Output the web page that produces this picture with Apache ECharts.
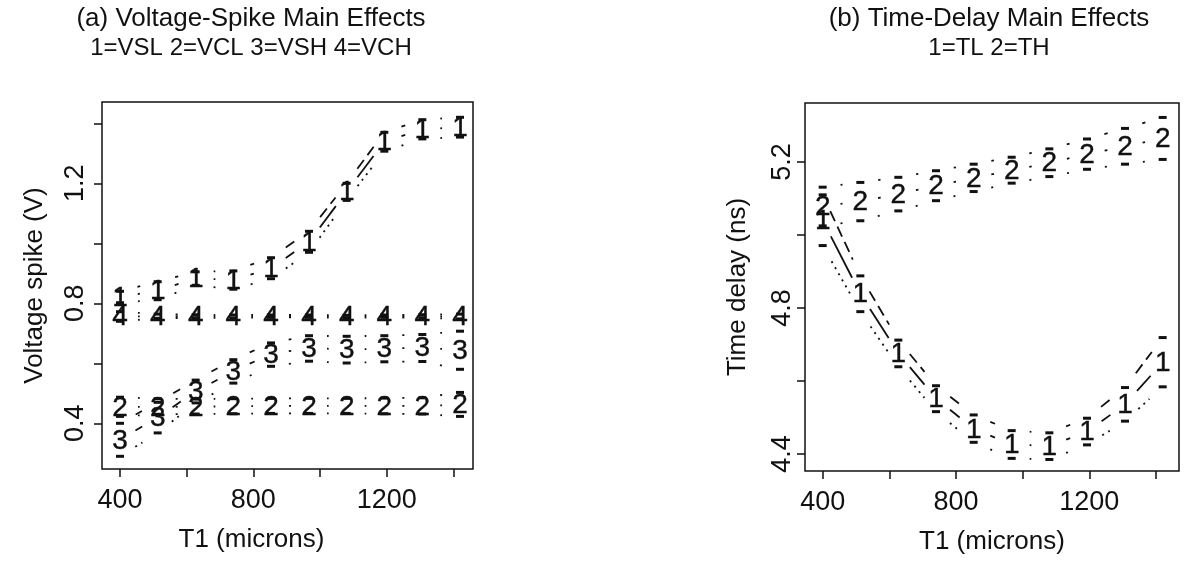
<!DOCTYPE html>
<html>
<head>
<meta charset="utf-8">
<script src="https://cdn.jsdelivr.net/npm/echarts@6/dist/echarts.min.js"></script>
<style>
  html, body { margin: 0; padding: 0; background: #fff; }
  #chart { width: 1187px; height: 571px; }
</style>
</head>
<body>
<div id="chart"></div>
<script>
// T1 (microns) design points, shared by both panels
var t1 = [400, 513, 627, 740, 853, 967, 1080, 1193, 1307, 1420];

// (a) voltage spike: centre, upper and lower bounds per level
var vslMid = [0.821, 0.842, 0.883, 0.878, 0.917, 1.005, 1.172, 1.339, 1.380, 1.387];
var vslUp  = [0.840, 0.872, 0.905, 0.908, 0.952, 1.040, 1.200, 1.370, 1.412, 1.420];
var vslLo  = [0.802, 0.812, 0.860, 0.847, 0.882, 0.970, 1.143, 1.307, 1.348, 1.354];

var vclMid = [0.455, 0.455, 0.455, 0.457, 0.458, 0.458, 0.458, 0.458, 0.458, 0.462];
var vclUp  = [0.487, 0.482, 0.481, 0.482, 0.483, 0.483, 0.483, 0.484, 0.485, 0.503];
var vclLo  = [0.423, 0.430, 0.431, 0.432, 0.433, 0.433, 0.433, 0.432, 0.431, 0.423];

var vshMid = [0.345, 0.420, 0.506, 0.574, 0.631, 0.651, 0.646, 0.649, 0.652, 0.644];
var vshUp  = [0.400, 0.470, 0.544, 0.612, 0.668, 0.692, 0.690, 0.692, 0.696, 0.707];
var vshLo  = [0.290, 0.368, 0.468, 0.534, 0.590, 0.607, 0.601, 0.605, 0.606, 0.580];

var vchMid = [0.756, 0.757, 0.757, 0.756, 0.757, 0.757, 0.756, 0.757, 0.757, 0.756];
var vchUp  = [0.772, 0.764, 0.762, 0.761, 0.761, 0.761, 0.760, 0.761, 0.762, 0.764];
var vchLo  = [0.740, 0.750, 0.752, 0.751, 0.753, 0.753, 0.752, 0.753, 0.752, 0.748];

// (b) time delay
var tlMid = [5.040, 4.839, 4.676, 4.552, 4.469, 4.426, 4.422, 4.461, 4.536, 4.651];
var tlUp  = [5.110, 4.888, 4.712, 4.587, 4.507, 4.464, 4.458, 4.498, 4.582, 4.719];
var tlLo  = [4.971, 4.790, 4.639, 4.516, 4.432, 4.388, 4.385, 4.425, 4.490, 4.584];

var thMid = [5.079, 5.092, 5.112, 5.135, 5.156, 5.177, 5.198, 5.221, 5.243, 5.265];
var thUp  = [5.131, 5.144, 5.158, 5.176, 5.194, 5.213, 5.236, 5.263, 5.292, 5.322];
var thLo  = [5.025, 5.039, 5.066, 5.094, 5.119, 5.142, 5.160, 5.180, 5.194, 5.207];

// ticks and labels
var xTicks = [400, 600, 800, 1000, 1200, 1400];
var xLabels = [400, 800, 1200];
var vTicks = [0.4, 0.6, 0.8, 1.0, 1.2, 1.4];
var vLabels = [0.4, 0.8, 1.2];
var tTicks = [4.4, 4.6, 4.8, 5.0, 5.2];
var tLabels = [4.4, 4.8, 5.2];

var ink = '#111';
var FONT = '"Liberation Sans", Arial, Helvetica, sans-serif';
var GAP = 18;            // gap around each point, like R type="b"
var SOLID = null, DASHED = [11, 6], DOTTED = [2, 5];

function segments(xs, ys) {
  var out = [];
  for (var i = 0; i < xs.length - 1; i++) out.push([xs[i], ys[i], xs[i + 1], ys[i + 1]]);
  return out;
}
function points(xs, ys) {
  return xs.map(function (x, i) { return [x, ys[i]]; });
}

function lineSeries(g, xs, ys, dash) {
  return {
    type: 'custom', xAxisIndex: g, yAxisIndex: g, z: 2,
    encode: { x: [0, 2], y: [1, 3] },
    data: segments(xs, ys),
    renderItem: function (params, api) {
      var a = api.coord([api.value(0), api.value(1)]);
      var b = api.coord([api.value(2), api.value(3)]);
      var dx = b[0] - a[0], dy = b[1] - a[1];
      var len = Math.sqrt(dx * dx + dy * dy);
      if (len <= 2 * GAP + 0.5) return { type: 'group', children: [] };
      var ux = dx / len, uy = dy / len;
      return {
        type: 'line',
        shape: { x1: a[0] + ux * GAP, y1: a[1] + uy * GAP, x2: b[0] - ux * GAP, y2: b[1] - uy * GAP },
        style: { stroke: ink, lineWidth: 1.8, lineDash: dash, lineCap: 'butt' }
      };
    }
  };
}

function markSeries(g, xs, ys) {
  return {
    type: 'custom', xAxisIndex: g, yAxisIndex: g, z: 3,
    data: points(xs, ys),
    renderItem: function (params, api) {
      var p = api.coord([api.value(0), api.value(1)]);
      return { type: 'rect', shape: { x: p[0] - 4, y: p[1] - 1.5, width: 8, height: 3 }, style: { fill: ink } };
    }
  };
}

function digitSeries(g, xs, ys, ch) {
  return {
    type: 'custom', xAxisIndex: g, yAxisIndex: g, z: 4,
    data: points(xs, ys),
    renderItem: function (params, api) {
      var p = api.coord([api.value(0), api.value(1)]);
      return {
        type: 'text', x: p[0], y: p[1] + 1,
        style: { text: ch, fill: ink, stroke: ink, lineWidth: 0.4, font: '28px ' + FONT, align: 'center', verticalAlign: 'middle' }
      };
    }
  };
}

function group(g, mid, up, lo, ch) {
  return [
    lineSeries(g, t1, mid, SOLID),
    lineSeries(g, t1, up, DASHED),
    lineSeries(g, t1, lo, DOTTED),
    markSeries(g, t1, up),
    markSeries(g, t1, lo),
    digitSeries(g, t1, mid, ch)
  ];
}

function xAxisFor(g, min, max, namePad) {
  return {
    type: 'value', gridIndex: g, min: min, max: max,
    axisLine: { show: false },
    splitLine: { show: false },
    axisTick: { show: true, customValues: xTicks, length: 8, lineStyle: { color: ink, width: 1.5 } },
    axisLabel: { customValues: xLabels, color: ink, fontSize: 27, fontFamily: FONT, margin: 18,
      formatter: function (v) { return String(v); } },
    name: 'T1 (microns)', nameLocation: 'middle', nameGap: 58,
    nameTextStyle: { color: ink, fontSize: 26, fontFamily: FONT, padding: namePad }
  };
}

function yAxisFor(g, min, max, ticks, labels, name, labelGap, nameGap) {
  return {
    type: 'value', gridIndex: g, min: min, max: max,
    axisLine: { show: false },
    splitLine: { show: false },
    axisTick: { show: true, customValues: ticks, length: 8, lineStyle: { color: ink, width: 1.5 } },
    axisLabel: { customValues: labels, color: ink, fontSize: 27, fontFamily: FONT, rotate: 90, margin: labelGap,
      formatter: function (v) { return v.toFixed(1); } },
    name: name, nameLocation: 'middle', nameGap: nameGap,
    nameTextStyle: { color: ink, fontSize: 26, fontFamily: FONT }
  };
}

var chart = echarts.init(document.getElementById('chart'), null, { renderer: 'canvas' });

chart.setOption({
  backgroundColor: '#fff',
  animation: false,
  title: [
    {
      text: '(a) Voltage-Spike Main Effects', subtext: '1=VSL 2=VCL 3=VSH 4=VCH',
      left: 251, top: 6, textAlign: 'center', padding: 0, itemGap: 4,
      textStyle: { color: ink, fontSize: 26, fontWeight: 'normal', fontFamily: FONT },
      subtextStyle: { color: ink, fontSize: 24, fontFamily: FONT }
    },
    {
      text: '(b) Time-Delay Main Effects', subtext: '1=TL 2=TH',
      left: 989, top: 6, textAlign: 'center', padding: 0, itemGap: 4,
      textStyle: { color: ink, fontSize: 26, fontWeight: 'normal', fontFamily: FONT },
      subtextStyle: { color: ink, fontSize: 24, fontFamily: FONT }
    }
  ],
  grid: [
    { left: 102, top: 102, width: 371, height: 367, show: true, borderColor: ink, borderWidth: 1.5, backgroundColor: 'transparent' },
    { left: 805, top: 103, width: 374, height: 368, show: true, borderColor: ink, borderWidth: 1.5, backgroundColor: 'transparent' }
  ],
  xAxis: [xAxisFor(0, 346, 1459, [0, 72, 0, 0]), xAxisFor(1, 347, 1469, 0)],
  yAxis: [
    yAxisFor(0, 0.2477, 1.471, vTicks, vLabels, 'Voltage spike (V)', 13, 54),
    yAxisFor(1, 4.3534, 5.3616, tTicks, tLabels, 'Time delay (ns)', 9, 54)
  ],
  series: [].concat(
    group(0, vslMid, vslUp, vslLo, '1'),
    group(0, vclMid, vclUp, vclLo, '2'),
    group(0, vshMid, vshUp, vshLo, '3'),
    group(0, vchMid, vchUp, vchLo, '4'),
    group(1, tlMid, tlUp, tlLo, '1'),
    group(1, thMid, thUp, thLo, '2')
  )
});

window.addEventListener('resize', function () { chart.resize(); });
</script>
</body>
</html>
